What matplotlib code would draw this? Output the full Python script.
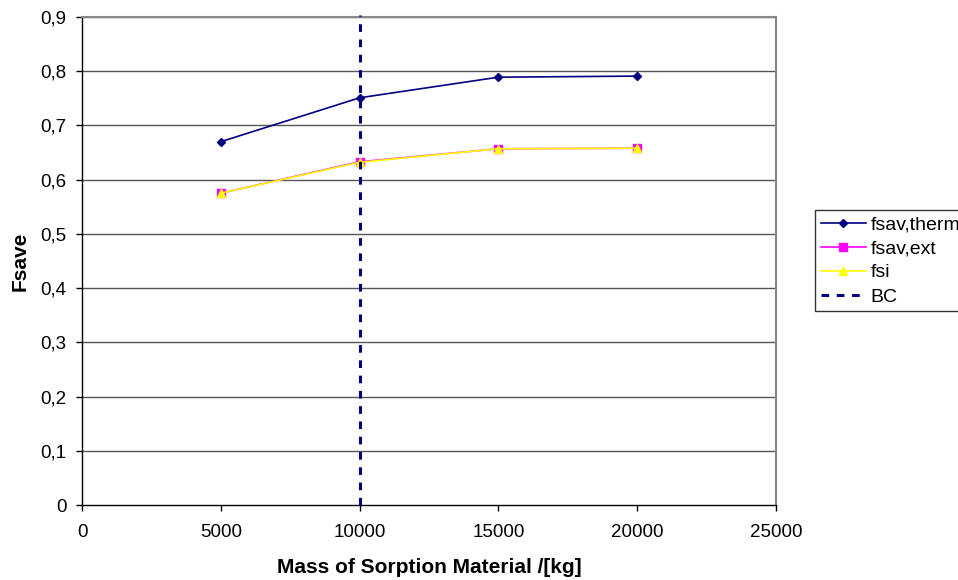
import matplotlib
matplotlib.use("Agg")
from matplotlib import pyplot as plt
from matplotlib.ticker import FuncFormatter

plt.rcParams['font.family'] = ['Liberation Sans', 'DejaVu Sans']

mass = [5000, 10000, 15000, 20000]
fsav_therm = [0.670, 0.751, 0.789, 0.791]
fsav_ext = [0.575, 0.633, 0.657, 0.658]
fsi = [0.575, 0.632, 0.657, 0.658]
bc_mass = 10000

fig = plt.figure(figsize=(9.58, 5.80), dpi=100)
ax = fig.add_axes([82/958, 1-505/580, (776-82)/958, (505-17)/580])

for y in [0.1*i for i in range(1, 10)]:
    ax.axhline(y, color='#555555', lw=1.0, zorder=1)

ax.plot(mass, fsav_therm, color='#000080', marker='D', ms=4.5, lw=1.2, label='fsav,therm', zorder=3)
ax.plot(mass, fsav_ext, color='#FF00FF', marker='s', ms=5.5, lw=1.2, label='fsav,ext', zorder=3)
ax.plot(mass, fsi, color='#FFFF00', marker='^', ms=5.5, lw=1.2, label='fsi', zorder=4)
ax.axvline(bc_mass, ymin=0, ymax=1.005, color='#000080', ls=(0, (2.5, 2.5)), lw=2.2, label='BC', zorder=5, clip_on=False)

ax.set_xlim(0, 25000)
ax.set_ylim(0, 0.9)
ax.set_xticks(range(0, 25001, 5000))
ax.set_yticks([0.1*i for i in range(10)])
ax.yaxis.set_major_formatter(FuncFormatter(lambda v, p: '0' if abs(v) < 1e-9 else f'{v:.1f}'.replace('.', ',')))
ax.tick_params(labelsize=13.5, direction='out', length=4, width=1, colors='black')
ax.tick_params(axis='x', pad=10)
ax.tick_params(axis='y', pad=7)
for s in ['top', 'right']:
    ax.spines[s].set_color('#888888')
    ax.spines[s].set_linewidth(1.5)
for s in ['left', 'bottom']:
    ax.spines[s].set_color('black')
    ax.spines[s].set_linewidth(1.0)

ax.set_xlabel('Mass of Sorption Material /[kg]', fontsize=15, fontweight='bold', labelpad=12)
ax.set_ylabel('Fsave', fontsize=15, fontweight='bold', labelpad=8)

leg = fig.legend(loc='upper left', bbox_to_anchor=(815/958, 1-210/580), fontsize=14,
                 frameon=True, fancybox=False, edgecolor='black', borderpad=0.3,
                 handlelength=2.3, handletextpad=0.25, labelspacing=0.33, borderaxespad=0)
leg.get_frame().set_linewidth(1.0)

fig.savefig('out.png', dpi=100)
